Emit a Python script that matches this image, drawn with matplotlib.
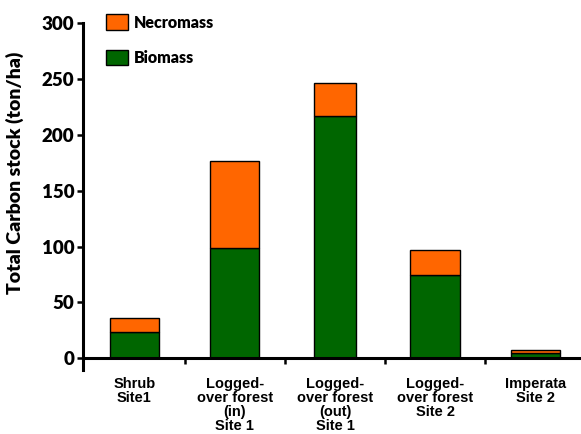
import numpy as np
import matplotlib.pyplot as plt
from matplotlib.patches import Patch

# Data
sites = ['Shrub\nSite1', 'Logged-\nover forest\n(in)\nSite 1', 'Logged-\nover forest\n(out)\nSite 1',
         'Logged-\nover forest\nSite 2', 'Imperata\nSite 2']
biomass = [23.3, 98.5, 217.0, 74.6, 4.5]
necromass = [12.5, 78.0, 29.5, 22.5, 2.3]
widths = [0.49, 0.49, 0.42, 0.50, 0.49]

green = '#006600'
orange = '#ff6600'
serif_font = 'Lato'
label_font = 'Liberation Sans'

fig = plt.figure(figsize=(5.81, 4.34), dpi=100)
ax = fig.add_axes([0.142, 0.1475, 0.858, 0.7985])

x = np.arange(len(sites))
ax.bar(x, biomass, width=widths, color=green, edgecolor='black', linewidth=1)
ax.bar(x, necromass, width=widths, bottom=biomass, color=orange, edgecolor='black', linewidth=1)

ax.set_xlim(-0.518, 4.454)
ax.set_ylim(-10.7, 300)

# axis styling
for s in ['top', 'right']:
    ax.spines[s].set_visible(False)
ax.spines['bottom'].set_position(('data', 0))
ax.spines['bottom'].set_linewidth(2.2)
ax.spines['left'].set_linewidth(2.2)

ax.set_yticks(np.arange(0, 301, 50))
ax.tick_params(axis='y', direction='out', length=4, width=1.8, pad=2)
for lab in ax.get_yticklabels():
    lab.set_fontfamily(serif_font)
    lab.set_fontweight('heavy')
    lab.set_fontsize(13.5)

# boundary ticks (major) and category labels (minor)
ax.set_xticks(x[:-1] + 0.5)
ax.set_xticklabels([])
ax.tick_params(axis='x', which='major', direction='out', length=4, width=1.8)
ax.set_xticks(x, minor=True)
ax.set_xticklabels(sites, minor=True, fontfamily=label_font, fontweight='bold',
                   fontsize=10.5, linespacing=1.0)
ax.tick_params(axis='x', which='minor', length=0, pad=14)

ax.set_ylabel('Total Carbon stock (ton/ha)', fontfamily=serif_font, fontweight='heavy', fontsize=14)
ax.yaxis.set_label_coords(-0.118, 0.57)

handles = [Patch(facecolor=orange, edgecolor='black', linewidth=1, label='Necromass'),
           Patch(facecolor=green, edgecolor='black', linewidth=1, label='Biomass')]
leg = fig.legend(handles=handles, loc='upper left', bbox_to_anchor=(0.168, 0.985),
                 frameon=False, borderpad=0, handlelength=1.4, handleheight=1.1,
                 labelspacing=1.2, handletextpad=0.35,
                 prop={'family': serif_font, 'weight': 'heavy', 'size': 11.5})

fig.savefig('out.png', dpi=100)
